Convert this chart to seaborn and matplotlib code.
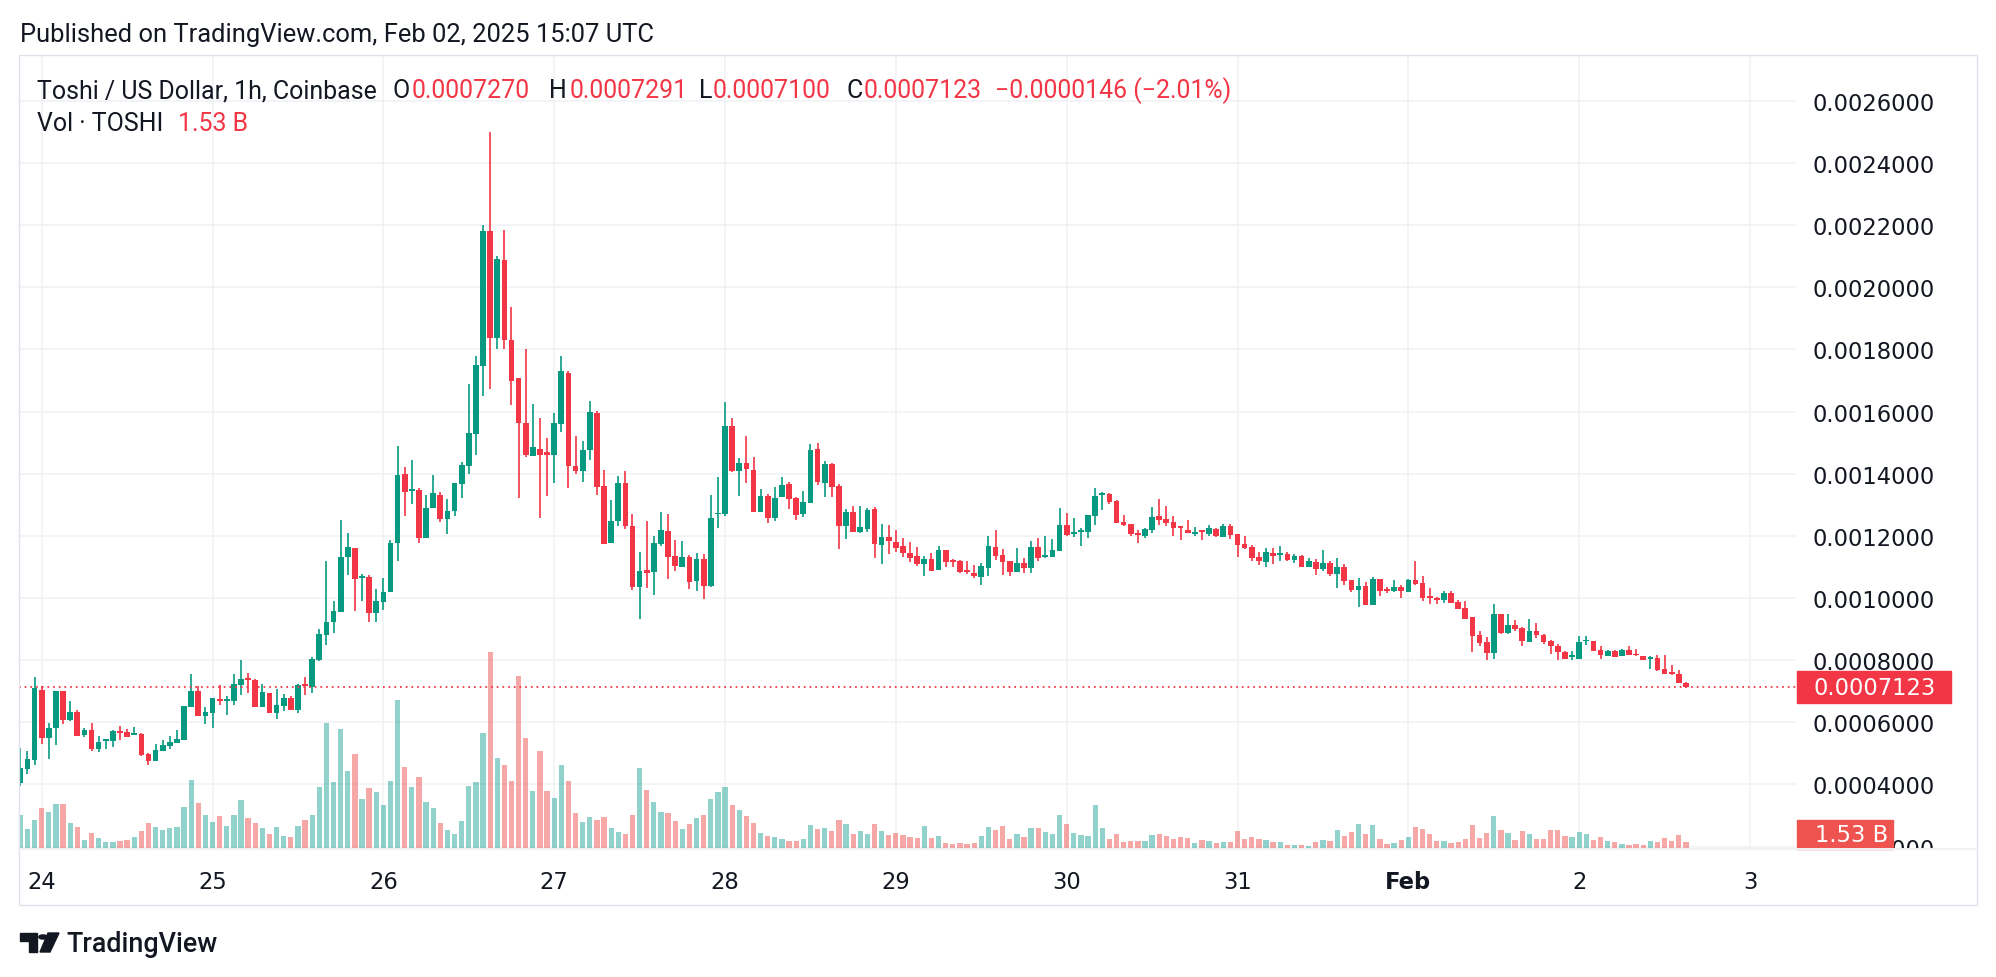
"""TOSHI / USD hourly candles with volume, drawn in the TradingView light style."""

import matplotlib

matplotlib.use("Agg")
import matplotlib.pyplot as plt
import numpy as np
import pandas as pd
import seaborn as sns
from matplotlib.lines import Line2D
from matplotlib.patches import Circle, Polygon, Rectangle

# hourly candles from Jan 23 21:00 to Feb 2 15:00 UTC, prices in units of 0.0001 USD
OPEN = [
    4.05, 4.51, 4.80, 7.04, 5.49, 5.81, 7.01, 6.08, 6.33, 5.60, 5.74, 5.15, 5.41, 5.41, 5.71, 5.69,
    5.60, 5.62, 4.98, 4.74, 5.09, 5.23, 5.34, 5.44, 6.50, 7.00, 6.21, 6.30, 6.74, 6.70, 6.69, 7.20,
    7.41, 7.35, 6.50, 6.93, 6.30, 6.53, 6.77, 6.40, 7.22, 7.12, 8.00, 8.82, 9.24, 9.55, 11.32, 11.61,
    10.66, 10.68, 9.52, 9.87, 10.18, 11.77, 13.98, 13.45, 13.48, 11.92, 12.89, 13.33, 12.53, 12.80,
    13.67, 14.26, 15.29, 17.47, 21.82, 18.38, 20.87, 18.32, 17.07, 15.62, 14.57, 14.78, 14.69, 14.60,
    15.60, 17.23, 14.26, 14.10, 14.76, 15.94, 13.59, 11.77, 12.47, 13.69, 12.33, 10.36, 10.90, 10.83,
    11.74, 12.17, 11.34, 11.00, 11.31, 10.54, 11.24, 10.39, 12.70, 12.71, 15.53, 14.09, 14.34, 14.11,
    12.77, 13.28, 12.58, 13.24, 13.66, 13.21, 12.69, 13.06, 14.80, 13.71, 14.32, 13.61, 12.32, 12.77,
    12.13, 12.23, 12.87, 11.71, 11.97, 11.81, 11.68, 11.45, 11.36, 11.10, 11.26, 10.90, 11.55, 11.22,
    11.19, 10.90, 10.81, 10.68, 10.97, 11.64, 11.38, 11.19, 10.84, 11.13, 10.97, 11.64, 11.32, 11.32,
    11.51, 12.35, 12.06, 12.13, 12.13, 12.64, 13.31, 13.35, 13.12, 12.44, 12.38, 12.09, 11.99, 12.18,
    12.63, 12.54, 12.44, 12.31, 12.18, 12.05, 12.18, 12.05, 12.21, 11.96, 12.31, 12.05, 11.73, 11.63,
    11.31, 11.15, 11.44, 11.38, 11.41, 11.22, 11.34, 10.99, 11.15, 10.93, 11.12, 10.77, 10.99, 10.57,
    10.25, 10.38, 9.77, 10.61, 10.28, 10.22, 10.35, 10.19, 10.57, 10.48, 10.06, 9.99, 9.93, 10.16,
    9.87, 9.67, 9.38, 8.80, 8.58, 8.23, 9.48, 8.87, 9.13, 9.03, 8.58, 8.93, 8.80, 8.62, 8.46, 8.27,
    8.09, 8.05, 8.61, 8.62, 8.33, 8.14, 8.30, 8.12, 8.33, 8.20, 8.14, 8.05, 8.07, 7.72, 7.62, 7.56,
    7.270,
]
HIGH = [
    5.17, 5.08, 7.47, 7.18, 5.97, 7.01, 7.01, 6.69, 6.40, 5.81, 5.97, 5.55, 5.46, 5.74, 5.87, 5.78,
    5.84, 5.64, 5.01, 5.30, 5.43, 5.56, 5.75, 6.54, 7.57, 7.18, 6.49, 6.77, 7.19, 6.84, 7.54, 7.99,
    7.60, 7.40, 7.22, 6.93, 7.06, 6.90, 6.86, 7.22, 7.47, 8.09, 9.01, 11.19, 9.90, 12.52, 12.10, 11.61,
    10.76, 10.75, 10.30, 10.64, 11.86, 14.89, 14.23, 14.45, 13.53, 13.30, 13.95, 13.40, 13.20, 13.70,
    14.39, 16.88, 17.79, 21.99, 24.99, 21.00, 21.84, 19.36, 17.07, 18.00, 16.23, 15.78, 15.14, 15.97,
    17.78, 17.30, 15.23, 15.04, 16.33, 16.02, 14.13, 13.17, 13.94, 14.09, 12.69, 11.47, 12.49, 11.99,
    12.76, 12.69, 11.88, 11.83, 11.37, 11.46, 11.43, 13.30, 13.90, 16.30, 15.79, 14.50, 15.21, 14.53,
    13.50, 13.34, 13.57, 13.89, 13.73, 13.24, 13.45, 14.96, 14.99, 14.41, 14.35, 13.67, 12.87, 12.96,
    12.97, 12.90, 12.93, 12.38, 12.35, 12.19, 11.94, 11.81, 11.65, 11.36, 11.45, 11.67, 11.55, 11.26,
    11.22, 11.19, 11.06, 11.13, 12.00, 12.19, 11.58, 11.19, 11.61, 11.29, 11.83, 11.93, 11.99, 11.90,
    12.90, 12.74, 12.57, 12.25, 12.67, 13.54, 13.41, 13.38, 13.15, 12.67, 12.38, 12.19, 12.25, 12.92,
    13.18, 12.95, 12.63, 12.31, 12.50, 12.28, 12.18, 12.34, 12.25, 12.37, 12.37, 12.05, 11.99, 11.70,
    11.47, 11.60, 11.60, 11.66, 11.47, 11.41, 11.38, 11.28, 11.25, 11.54, 11.18, 11.28, 11.09, 10.57,
    10.64, 10.51, 10.67, 10.61, 10.35, 10.57, 10.41, 10.61, 11.18, 10.70, 10.32, 10.03, 10.22, 10.22,
    9.93, 9.90, 9.38, 8.93, 8.74, 9.80, 9.48, 9.48, 9.29, 9.06, 9.32, 9.19, 8.84, 8.65, 8.52, 8.30,
    8.30, 8.78, 8.78, 8.62, 8.46, 8.33, 8.33, 8.36, 8.46, 8.36, 8.14, 8.14, 8.17, 8.17, 7.85, 7.69,
    7.291,
]
LOW = [
    3.95, 4.32, 4.64, 5.30, 4.83, 5.28, 5.94, 6.05, 5.57, 5.52, 5.09, 5.06, 5.15, 5.22, 5.44, 5.54,
    5.60, 4.90, 4.64, 4.74, 5.09, 5.15, 5.34, 5.44, 6.50, 6.21, 5.94, 5.82, 6.56, 6.24, 6.56, 6.88,
    6.93, 6.50, 6.50, 6.30, 6.11, 6.37, 6.40, 6.30, 6.88, 6.93, 7.97, 8.49, 8.88, 9.55, 10.75, 9.59,
    9.90, 9.24, 9.24, 9.60, 10.18, 11.19, 12.63, 13.02, 11.77, 11.92, 12.89, 12.44, 12.05, 12.64,
    13.22, 13.99, 14.59, 16.51, 16.73, 18.00, 18.00, 16.20, 13.21, 14.53, 14.57, 12.57, 13.29, 13.69,
    15.34, 13.55, 14.00, 13.74, 14.43, 13.32, 11.74, 11.77, 12.33, 12.22, 10.25, 9.32, 10.31, 10.09,
    11.69, 10.60, 10.88, 11.00, 10.28, 10.24, 9.97, 10.36, 12.25, 12.64, 14.06, 13.29, 13.71, 12.77,
    12.77, 12.42, 12.48, 13.24, 12.87, 12.52, 12.61, 13.06, 13.64, 13.25, 13.25, 11.58, 11.90, 12.13,
    12.10, 12.13, 11.29, 11.10, 11.42, 11.48, 11.32, 11.16, 11.03, 10.71, 10.88, 10.90, 11.00, 11.00,
    10.81, 10.77, 10.65, 10.42, 10.71, 11.22, 10.74, 10.71, 10.84, 10.81, 10.81, 11.19, 11.29, 11.32,
    11.51, 11.99, 11.96, 11.67, 11.93, 12.35, 12.83, 13.03, 12.41, 12.32, 12.00, 11.77, 11.92, 12.09,
    12.34, 12.31, 11.99, 11.86, 12.09, 11.99, 11.86, 11.99, 11.96, 11.96, 11.89, 11.31, 11.57, 11.18,
    11.05, 10.99, 11.09, 11.18, 11.18, 11.12, 10.99, 10.99, 10.73, 10.86, 10.70, 10.31, 10.41, 10.19,
    9.71, 9.77, 9.77, 10.06, 10.16, 10.19, 9.99, 10.19, 10.41, 9.90, 9.80, 9.80, 9.83, 9.83,
    9.64, 9.32, 8.26, 8.45, 8.00, 8.03, 8.84, 8.84, 8.93, 8.45, 8.58, 8.71, 8.52, 8.20, 8.00, 8.05,
    8.02, 8.05, 8.50, 8.31, 8.05, 8.12, 8.09, 8.12, 8.15, 8.12, 8.02, 7.73, 7.66, 7.54, 7.53, 7.25,
    7.100,
]
CLOSE = [
    4.53, 4.82, 7.09, 5.49, 5.81, 7.01, 6.08, 6.33, 5.57, 5.74, 5.15, 5.35, 5.46, 5.71, 5.67, 5.54,
    5.64, 4.96, 4.74, 5.11, 5.27, 5.37, 5.46, 6.52, 7.00, 6.21, 6.33, 6.77, 6.67, 6.74, 7.22, 7.38,
    7.36, 6.50, 6.97, 6.30, 6.55, 6.77, 6.40, 7.19, 7.18, 8.05, 8.85, 9.24, 9.59, 11.32, 11.64, 10.61,
    10.71, 9.52, 9.90, 10.18, 11.77, 13.95, 13.42, 13.51, 11.92, 12.89, 13.37, 12.55, 12.80, 13.70,
    14.28, 15.32, 17.50, 21.82, 18.38, 20.90, 18.31, 17.00, 15.62, 14.59, 14.85, 14.59, 14.60, 15.62,
    17.30, 14.26, 14.10, 14.77, 15.98, 13.58, 11.74, 12.47, 13.69, 12.32, 10.36, 10.88, 10.82, 11.76,
    12.20, 11.32, 11.02, 11.31, 10.51, 11.24, 10.39, 12.56, 12.75, 15.53, 14.09, 14.34, 14.16, 12.77,
    13.28, 12.58, 13.21, 13.63, 13.18, 12.68, 13.09, 14.77, 13.74, 14.32, 13.58, 12.32, 12.77, 12.13,
    12.29, 12.84, 11.74, 11.97, 11.84, 11.61, 11.45, 11.29, 11.10, 11.26, 10.88, 11.55, 11.16, 11.16,
    10.84, 10.84, 10.71, 11.03, 11.67, 11.35, 11.16, 10.84, 11.13, 10.97, 11.64, 11.29, 11.38, 11.55,
    12.35, 12.03, 12.12, 12.19, 12.67, 13.28, 13.38, 13.09, 12.41, 12.35, 12.06, 12.04, 12.21, 12.60,
    12.50, 12.41, 12.25, 12.25, 12.09, 12.12, 12.12, 12.25, 11.99, 12.31, 12.02, 11.70, 11.60, 11.28,
    11.18, 11.47, 11.34, 11.44, 11.22, 11.34, 10.99, 11.18, 10.93, 11.12, 10.77, 10.99, 10.54, 10.25,
    10.38, 9.77, 10.61, 10.22, 10.22, 10.35, 10.22, 10.57, 10.45, 9.99, 9.99, 9.93, 10.16, 9.83,
    9.64, 9.32, 8.78, 8.55, 8.23, 9.48, 8.87, 9.13, 9.00, 8.61, 8.93, 8.81, 8.58, 8.44, 8.27, 8.05,
    8.15, 8.59, 8.66, 8.31, 8.15, 8.30, 8.09, 8.33, 8.15, 8.15, 8.02, 8.11, 7.69, 7.54, 7.56, 7.27,
    7.123,
]
# hourly volume, billions of TOSHI
VOLUME_B = [
    7.70, 4.50, 6.56, 9.30, 8.38, 10.21, 10.21, 5.87, 4.96, 1.99, 3.59, 2.44, 1.53, 1.53, 1.76, 1.99,
    2.67, 4.04, 5.87, 4.96, 4.27, 4.73, 4.96, 9.52, 15.69, 10.44, 7.70, 6.10, 7.47, 5.18, 7.70, 11.12,
    7.01, 5.87, 4.73, 3.36, 4.96, 2.90, 2.67, 5.18, 6.56, 7.70, 14.09, 28.71, 15.23, 27.34, 17.75, 21.63,
    11.35, 13.86, 12.95, 9.98, 15.46, 33.96, 18.66, 14.09, 16.38, 10.67, 9.30, 5.87, 4.27, 3.36,
    6.33, 14.32, 15.23, 26.43, 45.06, 20.72, 19.12, 15.46, 39.44, 25.28, 13.18, 22.31, 13.18, 11.58,
    19.12, 15.46, 8.15, 6.10, 7.24, 6.56, 7.24, 4.73, 3.81, 3.36, 7.70, 18.43, 13.41, 10.67,
    8.38, 8.15, 6.33, 4.50, 5.64, 7.01, 7.70, 11.35, 12.95, 14.09, 9.98, 8.84, 7.47, 5.87,
    3.59, 2.90, 2.67, 2.22, 1.76, 1.76, 2.22, 5.41, 4.50, 4.73, 4.04, 6.56, 5.64, 3.36,
    4.04, 3.36, 5.64, 4.04, 3.13, 3.59, 3.13, 2.67, 2.44, 5.18, 2.44, 2.90, 1.30, 1.07,
    1.30, 1.07, 1.30, 2.90, 4.96, 4.27, 5.18, 2.22, 3.36, 2.67, 4.73, 4.73, 3.81, 3.36,
    7.70, 5.64, 3.59, 3.13, 2.90, 9.98, 4.73, 2.22, 3.36, 1.53, 1.76, 1.76, 1.76, 3.13,
    3.36, 2.90, 2.22, 2.67, 2.44, 1.30, 1.99, 1.76, 1.30, 1.53, 1.53, 4.04, 2.22, 2.67,
    2.22, 1.99, 1.53, 1.53, 0.85, 0.85, 0.85, 0.62, 1.53, 1.99, 1.76, 4.27, 2.90, 3.81,
    5.64, 3.36, 5.41, 2.22, 1.07, 1.30, 1.99, 2.67, 4.96, 4.50, 3.36, 1.76, 1.76, 1.30,
    1.53, 2.22, 5.41, 2.44, 3.59, 7.47, 4.27, 3.59, 1.99, 4.04, 3.36, 2.22, 2.22, 4.27, 4.27, 2.90,
    2.67, 3.81, 3.36, 1.99, 2.67, 1.76, 1.53, 1.07, 0.85, 1.07, 0.85, 1.76, 1.53, 2.44, 1.76, 3.13,
    1.53,
]

DAY_LABELS = ["24", "25", "26", "27", "28", "29", "30", "31", "Feb", "2", "3"]
PRICE_TICKS = [0.0002, 0.0004, 0.0006, 0.0008, 0.0010, 0.0012, 0.0014,
               0.0016, 0.0018, 0.0020, 0.0022, 0.0024, 0.0026]
LAST_PRICE = 0.0007123

TITLE = "Published on TradingView.com, Feb 02, 2025 15:07 UTC"
LEGEND = [
    ("Toshi / US Dollar, 1h, Coinbase", "ink", 37),
    ("O", "ink", 392), ("0.0007270", "red", 412),
    ("H", "ink", 549), ("0.0007291", "red", 570),
    ("L", "ink", 699), ("0.0007100", "red", 713),
    ("C", "ink", 846), ("0.0007123", "red", 864),
    ("\u22120.0000146 (\u22122.01%)", "red", 995),
]

COLORS = {
    "ink": "#131722",
    "red": "#F23645",
    "up": "#089981",
    "vol_up": "#26A69A",
    "vol_down": "#EF5350",
    "grid": "#F0F1F4",
    "frame": "#E0E3EB",
}

W, H = 1996, 978


def fx(px):
    return px / W


def fy(py):
    return 1 - py / H


sns.set_theme(style="white")
plt.rcParams["font.family"] = ["Roboto", "DejaVu Sans"]
AXIS_FONT = {"family": "DejaVu Sans", "size": 16.3}

times = pd.date_range("2025-01-23 21:00", "2025-02-02 15:00", freq="h")
origin = pd.Timestamp("2025-01-24")
df = pd.DataFrame({
    "hour": (times - origin) / pd.Timedelta(hours=1),
    "open": np.array(OPEN) * 1e-4,
    "high": np.array(HIGH) * 1e-4,
    "low": np.array(LOW) * 1e-4,
    "close": np.array(CLOSE) * 1e-4,
    "volume": VOLUME_B,
})
df["dir"] = np.where(df["close"] >= df["open"], "up", "down")
day_ticks = (pd.date_range("2025-01-24", "2025-02-03", freq="D") - origin) / pd.Timedelta(hours=1)

fig = plt.figure(figsize=(W / 100, H / 100), dpi=100)
rect = [fx(19), fy(850), fx(1796) - fx(19), fy(56) - fy(850)]
axv = fig.add_axes(rect)
ax = fig.add_axes(rect, sharex=axv)
ax.set_zorder(axv.get_zorder() + 1)
ax.patch.set_visible(False)

# volume pane underneath
sns.barplot(
    data=df, x="hour", y="volume", hue="dir",
    palette={"up": COLORS["vol_up"], "down": COLORS["vol_down"]},
    native_scale=True, dodge=False, width=0.74, saturation=1, alpha=0.5,
    errorbar=None, legend=False, linewidth=0, ax=axv,
)
axv.set_ylim(0, 181.3)
axv.set_xlim(-3.19, 246.46)
for d in day_ticks:
    axv.axvline(d, color=COLORS["grid"], lw=1.1, zorder=0)
for p in PRICE_TICKS:
    axv.plot([0, 1], [p, p], transform=ax.get_yaxis_transform(), color=COLORS["grid"], lw=1.1, zorder=0)

# candles
cols = np.where(df["dir"] == "up", COLORS["up"], COLORS["red"])
body_low = np.minimum(df["open"], df["close"])
body_h = np.maximum((df["close"] - df["open"]).abs(), 0.045e-4)
ax.vlines(df["hour"], df["low"], df["high"], colors=cols, linewidth=1.2, zorder=2)
ax.bar(df["hour"], body_h, bottom=body_low, width=0.8, color=cols, linewidth=0, zorder=3)
ax.axhline(LAST_PRICE, color=COLORS["red"], lw=1.3, ls=(0, (0.95, 2.2)), zorder=4)
ax.set_ylim(0.0001922, 0.0027477)

for a in (ax, axv):
    for s in a.spines.values():
        s.set_visible(False)
    a.set_xlabel("")
    a.set_ylabel("")

axv.set_yticks([])
axv.set_xticks(day_ticks)
axv.set_xticklabels(DAY_LABELS)
axv.tick_params(axis="x", length=0, pad=15, labelcolor=COLORS["ink"])
for lab in axv.get_xticklabels():
    lab.set_fontfamily(AXIS_FONT["family"])
    lab.set_fontsize(AXIS_FONT["size"])
    if lab.get_text() == "Feb":
        lab.set_fontweight("bold")

ax.tick_params(axis="x", labelbottom=False, length=0)
ax.yaxis.tick_right()
ax.set_yticks(PRICE_TICKS)
ax.set_yticklabels([f"{p:.7f}" for p in PRICE_TICKS])
ax.tick_params(axis="y", length=0, pad=12.2, labelcolor=COLORS["ink"])
for lab in ax.get_yticklabels():
    lab.set_fontfamily(AXIS_FONT["family"])
    lab.set_fontsize(AXIS_FONT["size"])

# last price and last volume markers on the price scale
ax_x = lambda px: (px - 19) / (1796 - 19)
box_h = 32 / 31.07 * 1e-4
ax.add_patch(Rectangle((ax_x(1797), LAST_PRICE - box_h / 2), ax_x(1951) - ax_x(1797), box_h,
                       transform=ax.get_yaxis_transform(), color=COLORS["red"], clip_on=False, zorder=6))
ax.text(ax_x(1813), LAST_PRICE, f"{LAST_PRICE:.7f}", transform=ax.get_yaxis_transform(),
        color="white", va="center", ha="left", zorder=7, **AXIS_FONT)
fig.add_artist(Rectangle((fx(1796), fy(866)), fx(1976) - fx(1796), fy(850) - fy(866),
                         transform=fig.transFigure, color="white", zorder=5))
fig.add_artist(Rectangle((fx(1797), fy(850)), fx(1893) - fx(1797), fy(821) - fy(850),
                         transform=fig.transFigure, color=COLORS["vol_down"], zorder=6))
fig.text(fx(1815), fy(836), "1.53 B", color="white", va="center", ha="left", zorder=7, **AXIS_FONT)

# frame around the chart and the time-scale separator
fig.add_artist(Rectangle((fx(19), fy(906)), fx(1977) - fx(19), fy(56) - fy(906),
                         transform=fig.transFigure, fill=False, ec=COLORS["frame"], lw=1, zorder=8))
fig.add_artist(Line2D([fx(19), fx(1977)], [fy(850), fy(850)], transform=fig.transFigure,
                      color=COLORS["grid"], lw=1.4, zorder=8))

# texts
fig.text(fx(20), fy(35), TITLE, color=COLORS["ink"], va="center", ha="left", fontsize=18.4)
for text, colour, x in LEGEND:
    fig.text(fx(x), fy(91), text, color=COLORS[colour], va="center", ha="left", fontsize=17.9, zorder=9)
fig.text(fx(37), fy(124), "Vol \u00b7 TOSHI", color=COLORS["ink"], va="center", ha="left", fontsize=17.9, zorder=9)
fig.text(fx(178), fy(124), "1.53 B", color=COLORS["red"], va="center", ha="left", fontsize=17.9, zorder=9)

# TradingView logo
fig.add_artist(Polygon([(fx(20), fy(934)), (fx(37), fy(934)), (fx(37), fy(953)), (fx(29), fy(953)),
                        (fx(29), fy(942)), (fx(20), fy(942))], closed=True, transform=fig.transFigure,
                       color=COLORS["ink"]))
fig.add_artist(Circle((fx(43), fy(938)), 4.2 / W, transform=fig.transFigure, color=COLORS["ink"]))
fig.add_artist(Polygon([(fx(48), fy(934)), (fx(59), fy(934)), (fx(50), fy(953)), (fx(40), fy(953))],
                       closed=True, transform=fig.transFigure, color=COLORS["ink"]))
fig.text(fx(66), fy(944), "TradingView", color=COLORS["ink"], va="center", ha="left",
         fontsize=19.4, fontweight="medium")

fig.savefig("out.png", dpi=100)
